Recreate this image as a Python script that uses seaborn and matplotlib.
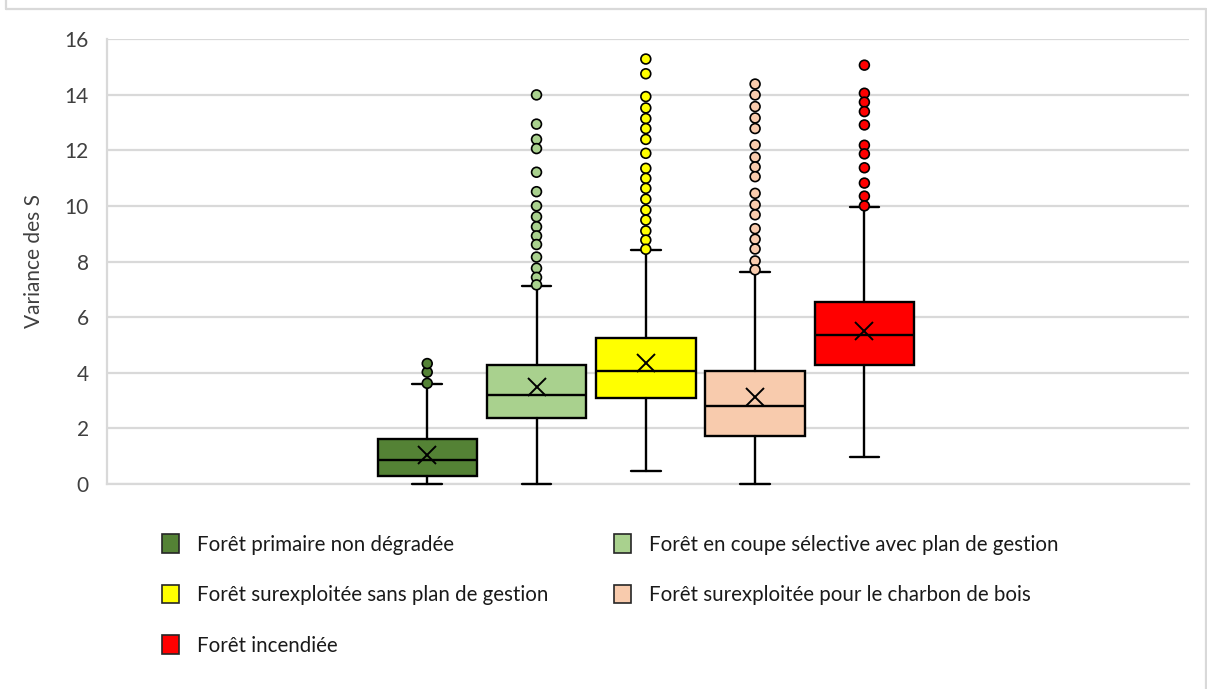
import pandas as pd
import seaborn as sns
import matplotlib.pyplot as plt
from matplotlib.patches import Patch
from matplotlib.lines import Line2D

# Box statistics
forests = ['Forêt primaire non dégradée',
           'Forêt en coupe sélective avec plan de gestion',
           'Forêt surexploitée sans plan de gestion',
           'Forêt surexploitée pour le charbon de bois',
           'Forêt incendiée']
colors = ['#548235', '#a9d18e', '#ffff00', '#f8cbad', '#ff0000']

q1 = [0.30, 2.39, 3.09, 1.73, 4.28]
median = [0.85, 3.20, 4.06, 2.82, 5.36]
q3 = [1.62, 4.28, 5.25, 4.07, 6.56]
mean = [1.04, 3.48, 4.35, 3.14, 5.51]
whis_low = [0.0, 0.0, 0.47, 0.0, 0.98]
whis_high = [3.58, 7.12, 8.41, 7.62, 9.97]

outliers_1 = [3.62, 4.02, 4.33]
outliers_2 = [13.99, 12.94, 12.39, 12.06, 11.21, 10.51, 10.0, 9.61, 9.25, 8.92,
              8.61, 8.16, 7.76, 7.43, 7.16]
outliers_3 = [15.28, 14.75, 13.93, 13.52, 13.14, 12.78, 12.39, 11.89, 11.35, 10.99,
              10.63, 10.24, 9.85, 9.49, 9.10, 8.77, 8.44]
outliers_4 = [14.38, 13.99, 13.57, 13.16, 12.78, 12.19, 11.75, 11.40, 11.05, 10.45,
              10.04, 9.68, 9.18, 8.80, 8.45, 8.02, 7.70]
outliers_5 = [15.06, 14.05, 13.73, 13.39, 12.91, 12.18, 11.87, 11.37, 10.82, 10.35, 10.0]
outliers = [outliers_1, outliers_2, outliers_3, outliers_4, outliers_5]

sns.set_style('white')
plt.rcParams['font.family'] = ['Lato', 'DejaVu Sans']

stats = []
for i, name in enumerate(forests):
    stats.append(dict(label=name, q1=q1[i], med=median[i], q3=q3[i], mean=mean[i],
                      whislo=whis_low[i], whishi=whis_high[i], fliers=[]))

fliers = pd.DataFrame([(i, forests[i], v) for i, vals in enumerate(outliers) for v in vals],
                      columns=['pos', 'forest', 'value'])

fig = plt.figure(figsize=(12.07, 6.89), dpi=100)
ax = fig.add_axes([107 / 1207, 1 - 484 / 689, (1189 - 107) / 1207, (484 - 39) / 689])

line = dict(color='black', linewidth=1.7)
bp = ax.bxp(stats, positions=range(5), widths=0.91, capwidths=0.27, patch_artist=True,
            showmeans=True, showfliers=False,
            boxprops=dict(edgecolor='black', linewidth=1.7),
            medianprops=line, whiskerprops=line, capprops=line,
            meanprops=dict(marker='x', markeredgecolor='black', markersize=12.5,
                           markeredgewidth=1.4))
for box, c in zip(bp['boxes'], colors):
    box.set_facecolor(c)
    box.set_zorder(2)
for key in ['whiskers', 'caps', 'boxes', 'medians', 'means']:
    for artist in bp[key]:
        artist.set_clip_on(False)
        if key != 'boxes':
            artist.set_zorder(3)

sns.scatterplot(data=fliers, x='pos', y='value', hue='forest', palette=colors,
                edgecolor='black', linewidth=1.2, s=50, legend=False, zorder=4,
                clip_on=False, ax=ax)

ax.set_xlim(-2.93, 6.97)
ax.set_ylim(0, 16)
ax.set_yticks(range(0, 17, 2))
ax.set_xticks([])
ax.set_xlabel('')
ax.set_ylabel('Variance des S', fontsize=15, labelpad=15, color='#404040')
ax.tick_params(axis='y', length=0, pad=13, labelsize=15, labelcolor='#404040')
ax.grid(True, axis='y', color='#d9d9d9', linewidth=1.6)
ax.set_axisbelow(True)
for side in ['top', 'right']:
    ax.spines[side].set_visible(False)
for side in ['left', 'bottom']:
    ax.spines[side].set_color('#d9d9d9')
    ax.spines[side].set_linewidth(1.6)

handles = [Patch(facecolor=c, edgecolor='#262626', linewidth=1.2) for c in colors]
order = [0, 2, 4, 1, 3]
fig.legend([handles[i] for i in order], [forests[i] for i in order], ncol=2,
           loc='upper left', bbox_to_anchor=(143 / 1207, 1 - 516 / 689), frameon=False,
           fontsize=14.8, handlelength=0.83, handleheight=1.0, handletextpad=0.88,
           labelspacing=1.47, columnspacing=3.2, labelcolor='#1a1a1a')

# chart border
for xs, ys in [([6, 6], [0, 9]), ([6, 1206], [9, 9]), ([1206, 1206], [9, 689])]:
    fig.add_artist(Line2D([x / 1207 for x in xs], [1 - y / 689 for y in ys],
                          color='#d9d9d9', linewidth=1.6))

plt.savefig('out.png', dpi=100)
